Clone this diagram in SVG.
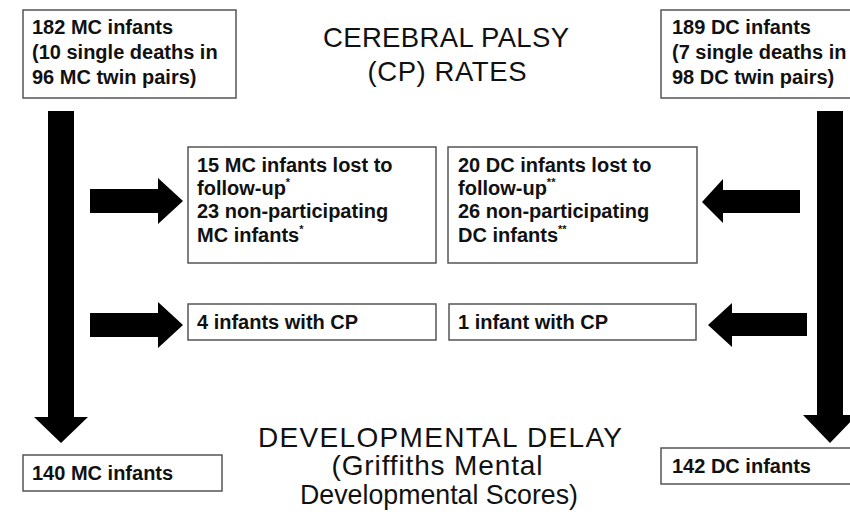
<svg xmlns="http://www.w3.org/2000/svg" width="850" height="520" viewBox="0 0 850 520">
<style>
.box{fill:#fff;stroke:#555;stroke-width:1.5}
.t{font-family:"Liberation Sans",Arial,sans-serif;font-weight:bold;font-size:20px;fill:#111}
.h{font-family:"Liberation Sans",Arial,sans-serif;font-size:27.5px;fill:#111;text-anchor:middle}
.sup{font-size:11px}
.arrow{fill:#000}
</style>
<rect width="850" height="520" fill="#fff"/>
<g id="connectors">
<polygon class="arrow" points="48,111 74,111 74,417 88,417 61,443 34,417 48,417"/>
<polygon class="arrow" points="817,111 843,111 843,415 857,415 830,443 803,415 817,415"/>
<polygon class="arrow" points="90,189 158,189 158,178 183,201 158,224 158,213 90,213"/>
<polygon class="arrow" points="800,190 723,190 723,179 702,202 723,223 723,213 800,213"/>
<polygon class="arrow" points="90,313 158,313 158,302 183,325 158,348 158,337 90,337"/>
<polygon class="arrow" points="807,313 732,313 732,303 708,325 732,347 732,336 807,336"/>
</g>
<g id="mc-start">
<rect class="box" x="23" y="10" width="213" height="88"/>
<text class="t" x="32" y="34">182 MC infants</text>
<text class="t" x="32" y="59">(10 single deaths in</text>
<text class="t" x="32" y="84">96 MC twin pairs)</text>
</g>
<g id="dc-start">
<rect class="box" x="661" y="10" width="200" height="88"/>
<text class="t" x="672" y="34">189 DC infants</text>
<text class="t" x="672" y="59">(7 single deaths in</text>
<text class="t" x="672" y="84">98 DC twin pairs)</text>
</g>
<g id="title-cp">
<text class="h" x="446" y="47" textLength="246" lengthAdjust="spacing">CEREBRAL PALSY</text>
<text class="h" x="447" y="81" textLength="159" lengthAdjust="spacing">(CP) RATES</text>
</g>
<g id="mc-lost">
<rect class="box" x="188" y="147" width="248" height="116"/>
<text class="t" x="197" y="172">15 MC infants lost to</text>
<text class="t" x="197" y="195">follow-up<tspan class="sup" dy="-9">*</tspan></text>
<text class="t" x="197" y="218">23 non-participating</text>
<text class="t" x="197" y="242">MC infants<tspan class="sup" dy="-9">*</tspan></text>
</g>
<g id="dc-lost">
<rect class="box" x="448" y="147" width="249" height="116"/>
<text class="t" x="458" y="172">20 DC infants lost to</text>
<text class="t" x="458" y="195">follow-up<tspan class="sup" dy="-9">**</tspan></text>
<text class="t" x="458" y="218">26 non-participating</text>
<text class="t" x="458" y="242">DC infants<tspan class="sup" dy="-9">**</tspan></text>
</g>
<g id="mc-cp">
<rect class="box" x="188" y="304" width="248" height="36"/>
<text class="t" x="197" y="329">4 infants with CP</text>
</g>
<g id="dc-cp">
<rect class="box" x="449" y="304" width="247" height="36"/>
<text class="t" x="458" y="329">1 infant with CP</text>
</g>
<g id="title-dd">
<text class="h" x="440" y="447" font-size="28" style="font-size:28px" textLength="364" lengthAdjust="spacing">DEVELOPMENTAL DELAY</text>
<text class="h" x="437" y="475" style="font-size:28px" textLength="211" lengthAdjust="spacing">(Griffiths Mental</text>
<text class="h" x="439" y="504" style="font-size:28px" textLength="278" lengthAdjust="spacingAndGlyphs">Developmental Scores)</text>
</g>
<g id="mc-end">
<rect class="box" x="23" y="455" width="199" height="36"/>
<text class="t" x="32" y="480">140 MC infants</text>
</g>
<g id="dc-end">
<rect class="box" x="661" y="448" width="200" height="36"/>
<text class="t" x="672" y="473">142 DC infants</text>
</g>
</svg>
